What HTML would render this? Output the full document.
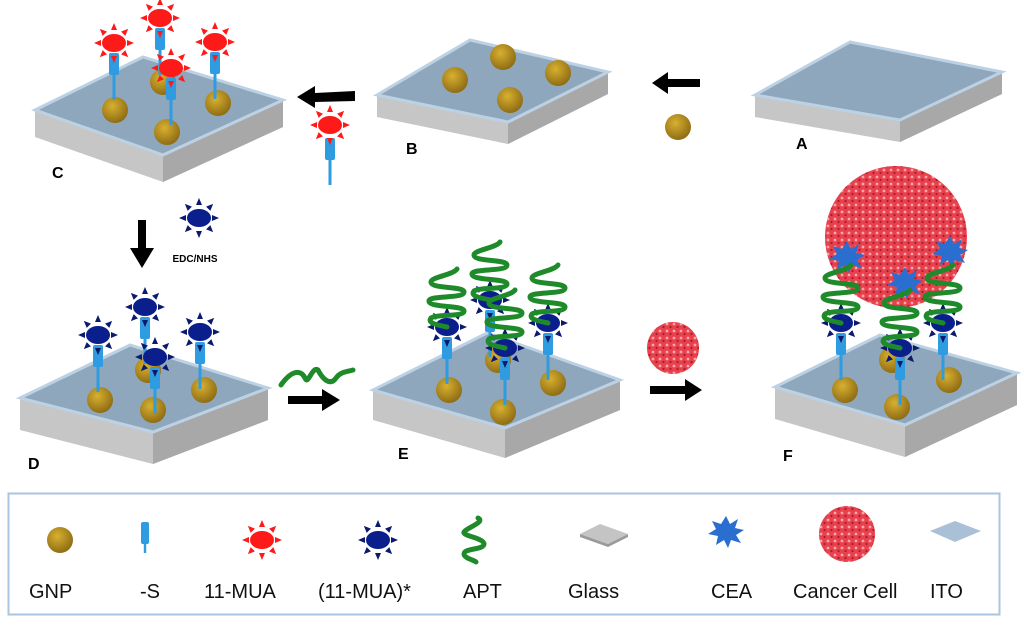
<!DOCTYPE html>
<html><head><meta charset="utf-8"><style>
html,body{margin:0;padding:0;background:#fff;width:1024px;height:626px;overflow:hidden}
svg{display:block}
text{font-family:"Liberation Sans",sans-serif}
</style></head><body>
<svg width="1024" height="626" viewBox="0 0 1024 626" xmlns="http://www.w3.org/2000/svg">
<defs>
<radialGradient id="gg" cx="40%" cy="35%" r="70%"><stop offset="0" stop-color="#d8b030"/><stop offset="1" stop-color="#8a6812"/></radialGradient>
<pattern id="cp" width="7" height="7" patternUnits="userSpaceOnUse"><circle cx="2" cy="2" r="1.4" fill="#f8a6ac"/><circle cx="5.5" cy="5" r="1.1" fill="#a81c28"/></pattern>
<g id="gnp"><circle r="13" fill="url(#gg)"/></g>
<g id="rs"><g fill="#ff1a1a"><polygon points="13,-3 13,3 20,0"/><polygon points="13,-3 13,3 20,0" transform="rotate(45)"/><polygon points="13,-3 13,3 20,0" transform="rotate(90)"/><polygon points="13,-3 13,3 20,0" transform="rotate(135)"/><polygon points="13,-3 13,3 20,0" transform="rotate(180)"/><polygon points="13,-3 13,3 20,0" transform="rotate(225)"/><polygon points="13,-3 13,3 20,0" transform="rotate(270)"/><polygon points="13,-3 13,3 20,0" transform="rotate(315)"/></g><ellipse rx="12" ry="9" fill="#ff1a1a"/></g>
<g id="bs"><g fill="#0c1a6e"><polygon points="13,-3 13,3 20,0"/><polygon points="13,-3 13,3 20,0" transform="rotate(45)"/><polygon points="13,-3 13,3 20,0" transform="rotate(90)"/><polygon points="13,-3 13,3 20,0" transform="rotate(135)"/><polygon points="13,-3 13,3 20,0" transform="rotate(180)"/><polygon points="13,-3 13,3 20,0" transform="rotate(225)"/><polygon points="13,-3 13,3 20,0" transform="rotate(270)"/><polygon points="13,-3 13,3 20,0" transform="rotate(315)"/></g><ellipse rx="12" ry="9" fill="#0a1e8c"/></g>
<g id="stem"><rect x="-5" y="0" width="10" height="22" rx="2" fill="#2f9be0"/><rect x="-1.5" y="21" width="3" height="26" fill="#2f9be0"/></g>
<path id="apt" d="M0,0 C-10,-2 -20,-4 -16,-9 C-10,-13 17,-10 17,-16 C17,-22 -18,-19 -18,-26 C-18,-32 17,-28 17,-35 C17,-41 -16,-38 -16,-45 C-16,-50 6,-52 10,-58" stroke="#1e8a2a" stroke-width="5" fill="none" stroke-linecap="round"/>
<polygon id="cea" points="0,-16 4,-8 12,-13 9,-4 18,-2 10,3 15,11 5,8 2,16 -2,8 -10,13 -8,4 -18,2 -10,-3 -14,-11 -5,-8" fill="#2a6fd0"/>
</defs>

<!-- Plate A -->
<polygon points="755,95 900,120 1002,72 1002,94 900,142 755,117" fill="#c6c6c6"/>
<polygon points="900,120 1002,72 1002,94 900,142" fill="#a8a8a8"/>
<polygon points="755,95 850,42 1002,72 900,120" fill="#8ea7bd" stroke="#bcd2e4" stroke-width="3"/>
<!-- Plate B -->
<polygon points="377,95 508,122 608,72 608,94 508,144 377,117" fill="#c6c6c6"/>
<polygon points="508,122 608,72 608,94 508,144" fill="#a8a8a8"/>
<polygon points="377,95 470,40 608,72 508,122" fill="#8ea7bd" stroke="#bcd2e4" stroke-width="3"/>
<use href="#gnp" x="503" y="57"/><use href="#gnp" x="455" y="80"/><use href="#gnp" x="558" y="73"/><use href="#gnp" x="510" y="100"/>
<!-- Plate C -->
<polygon points="35,110 163,155 283,100 283,127 163,182 35,137" fill="#c6c6c6"/>
<polygon points="163,155 283,100 283,127 163,182" fill="#a8a8a8"/>
<polygon points="35,110 143,57 283,100 163,155" fill="#8ea7bd" stroke="#bcd2e4" stroke-width="3"/>
<use href="#gnp" x="163" y="82"/><use href="#stem" x="160" y="28"/><use href="#rs" x="160" y="18"/>
<use href="#gnp" x="115" y="110"/><use href="#stem" x="114" y="53"/><use href="#rs" x="114" y="43"/>
<use href="#gnp" x="218" y="103"/><use href="#stem" x="215" y="52"/><use href="#rs" x="215" y="42"/>
<use href="#gnp" x="167" y="132"/><use href="#stem" x="171" y="78"/><use href="#rs" x="171" y="68"/>
<!-- Plate D -->
<polygon points="20,398 153,432 268,388 268,420 153,464 20,430" fill="#c6c6c6"/>
<polygon points="153,432 268,388 268,420 153,464" fill="#a8a8a8"/>
<polygon points="20,398 130,345 268,388 153,432" fill="#8ea7bd" stroke="#bcd2e4" stroke-width="3"/>
<use href="#gnp" x="148" y="370"/><use href="#stem" x="145" y="317"/><use href="#bs" x="145" y="307"/>
<use href="#gnp" x="100" y="400"/><use href="#stem" x="98" y="345"/><use href="#bs" x="98" y="335"/>
<use href="#gnp" x="204" y="390"/><use href="#stem" x="200" y="342"/><use href="#bs" x="200" y="332"/>
<use href="#gnp" x="153" y="410"/><use href="#stem" x="155" y="367"/><use href="#bs" x="155" y="357"/>
<!-- Plate E -->
<polygon points="373,390 505,428 620,380 620,410 505,458 373,420" fill="#c6c6c6"/>
<polygon points="505,428 620,380 620,410 505,458" fill="#a8a8a8"/>
<polygon points="373,390 487,333 620,380 505,428" fill="#8ea7bd" stroke="#bcd2e4" stroke-width="3"/>
<use href="#gnp" x="498" y="360"/><use href="#stem" x="490" y="310"/><use href="#bs" x="490" y="300"/><use href="#apt" x="490" y="300"/>
<use href="#gnp" x="449" y="390"/><use href="#stem" x="447" y="337"/><use href="#bs" x="447" y="327"/><use href="#apt" x="447" y="327"/>
<use href="#gnp" x="553" y="383"/><use href="#stem" x="548" y="333"/><use href="#bs" x="548" y="323"/><use href="#apt" x="548" y="323"/>
<use href="#gnp" x="503" y="412"/><use href="#stem" x="505" y="358"/><use href="#bs" x="505" y="348"/><use href="#apt" x="505" y="348"/>
<!-- Plate F -->
<polygon points="775,387 905,425 1017,373 1017,405 905,457 775,419" fill="#c6c6c6"/>
<polygon points="905,425 1017,373 1017,405 905,457" fill="#a8a8a8"/>
<polygon points="775,387 880,335 1017,373 905,425" fill="#8ea7bd" stroke="#bcd2e4" stroke-width="3"/>
<use href="#gnp" x="892" y="360"/>
<use href="#gnp" x="845" y="390"/><use href="#stem" x="841" y="333"/><use href="#bs" x="841" y="323"/>
<use href="#gnp" x="949" y="380"/><use href="#stem" x="943" y="333"/><use href="#bs" x="943" y="323"/>
<use href="#gnp" x="897" y="407"/><use href="#stem" x="900" y="358"/><use href="#bs" x="900" y="348"/>
<circle cx="896" cy="237" r="71" fill="#e8414e"/><circle cx="896" cy="237" r="71" fill="url(#cp)"/>
<use href="#cea" x="847" y="257"/><use href="#cea" x="905" y="283"/><use href="#cea" x="950" y="252"/>
<use href="#apt" x="841" y="323"/><use href="#apt" x="900" y="348"/><use href="#apt" x="943" y="323"/>

<!-- arrows -->
<g fill="#000">
<polygon points="652,83 668,72 668,79 700,79 700,87 668,87 668,94"/>
<polygon points="297,97 315,86 315,93 355,91 355,101 315,102 315,108"/>
<polygon points="142,268 130,248 138,248 138,220 146,220 146,248 154,248"/>
<polygon points="340,400 322,389 322,396 288,396 288,404 322,404 322,411"/>
<polygon points="702,390 685,379 685,386 650,386 650,394 685,394 685,401"/>
</g>
<use href="#gnp" x="678" y="127"/>
<use href="#stem" x="330" y="138"/><use href="#rs" x="330" y="125"/>
<use href="#bs" x="199" y="218"/>
<text x="195" y="262" font-size="10" font-weight="bold" text-anchor="middle">EDC/NHS</text>
<path d="M281,385 C290,372 300,368 305,378 C308,386 312,366 318,370 C322,378 330,387 336,378 C340,372 346,372 353,370" stroke="#1e8a2a" stroke-width="5" fill="none" stroke-linecap="round"/>
<circle cx="673" cy="348" r="26" fill="#e8414e"/><circle cx="673" cy="348" r="26" fill="url(#cp)"/>

<g font-size="16" font-weight="bold">
<text x="796" y="149">A</text><text x="406" y="154">B</text><text x="52" y="178">C</text>
<text x="28" y="469">D</text><text x="398" y="459">E</text><text x="783" y="461">F</text>
</g>

<!-- legend -->
<rect x="8.5" y="493.5" width="991" height="121" fill="none" stroke="#a9c6e0" stroke-width="2"/>
<use href="#gnp" x="60" y="540"/>
<g transform="translate(145,522)"><rect x="-4" y="0" width="8" height="22" rx="2" fill="#2f9be0"/><rect x="-1.2" y="21" width="2.4" height="10" fill="#2f9be0"/></g>
<use href="#rs" x="262" y="540"/>
<use href="#bs" x="378" y="540"/>
<path d="M478,518 C486,522 466,528 464,532 C462,536 484,538 484,544 C484,550 464,548 464,554 C464,558 474,560 476,562" stroke="#1e8a2a" stroke-width="5" fill="none" stroke-linecap="round"/>
<polygon points="580,534 600,524 628,534 608,544" fill="#c4c4c4"/><polygon points="580,534 608,544 628,534 628,537 608,547 580,537" fill="#9a9a9a"/>
<use href="#cea" x="726" y="532"/>
<circle cx="847" cy="534" r="28" fill="#e8414e"/><circle cx="847" cy="534" r="28" fill="url(#cp)"/>
<polygon points="930,531 955,521 981,531 955,542" fill="#a9c0d6"/>
<g font-size="20" fill="#111">
<text x="29" y="598">GNP</text><text x="140" y="598">-S</text><text x="204" y="598">11-MUA</text>
<text x="318" y="598">(11-MUA)*</text><text x="463" y="598">APT</text><text x="568" y="598">Glass</text>
<text x="711" y="598">CEA</text><text x="793" y="598">Cancer Cell</text><text x="930" y="598">ITO</text>
</g>
</svg>
</body></html>
